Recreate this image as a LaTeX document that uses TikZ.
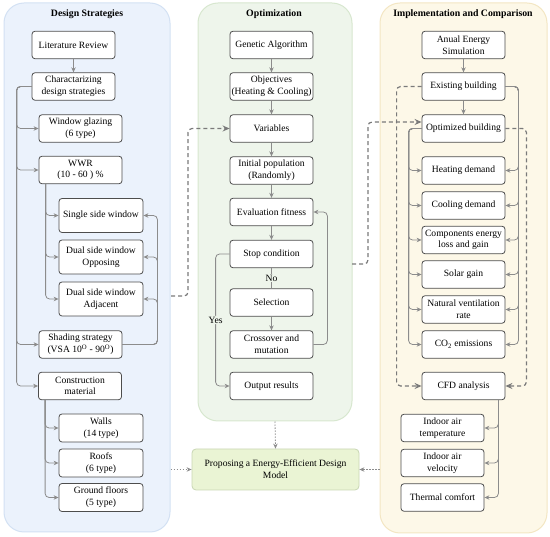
\documentclass[tikz,border=0pt]{standalone}
\usepackage{fontspec}
\setmainfont{Liberation Serif}
\usetikzlibrary{arrows.meta}
\definecolor{bluef}{HTML}{EBF2FC}
\definecolor{blued}{HTML}{D3E1F3}
\definecolor{greenf}{HTML}{EEF5EB}
\definecolor{greend}{HTML}{D7E7CF}
\definecolor{yellf}{HTML}{FDF8E8}
\definecolor{yelld}{HTML}{F3E6C3}
\definecolor{boxc}{HTML}{4D4D4D}
\definecolor{linec}{HTML}{8C8C8C}
\definecolor{dashc}{HTML}{7A7A7A}
\definecolor{propf}{HTML}{EAF4D4}
\definecolor{propd}{HTML}{C8D6B3}
\begin{document}
\begin{tikzpicture}[x=1pt,y=-1pt,
  font=\fontsize{9.6}{11.7}\selectfont,
  box/.style={draw=boxc, fill=white, rounded corners=3pt, line width=0.8pt,
    minimum width=83pt, minimum height=27.5pt, align=center, inner sep=1pt},
  tallbox/.style={box, minimum width=84pt, minimum height=34pt},
  panel/.style={rounded corners=20pt, line width=1pt},
  ttl/.style={font=\fontsize{9.8}{12}\selectfont\bfseries},
  conn/.style={draw=linec, line width=0.8pt, rounded corners=4pt,
    -{Stealth[length=5pt,width=4.5pt]}},
  plainconn/.style={draw=linec, line width=0.8pt},
  dashconn/.style={draw=dashc, line width=1.2pt, dash pattern=on 4pt off 3pt,
    rounded corners=4pt, -{Stealth[length=7pt,width=6pt]}},
  dotconn/.style={draw=linec, line width=0.8pt, dash pattern=on 1.5pt off 1.5pt,
    -{Stealth[length=5pt,width=4.5pt]}}
]
\useasboundingbox (0,0) rectangle (550,537);

% panels
\node[panel, fill=bluef, draw=blued, minimum width=166pt, minimum height=529pt] (P1) at (87,267.5) {};
\node[panel, fill=greenf, draw=greend, minimum width=154pt, minimum height=418pt] (P2) at (275,212) {};
\node[panel, fill=yellf, draw=yelld, minimum width=167pt, minimum height=530pt] (P3) at (463.5,268) {};

\node[ttl] (T1) at (87,14) {Design Strategies};
\node[ttl] (T2) at (274,14) {Optimization};
\node[ttl] (T3) at (463,14) {Implementation and Comparison};

% left column
\node[box] (lit) at (73.5,45) {Literature Review};
\node[box] (char) at (73.5,86.5) {Charactarizing\\design strategies};
\node[box] (glaz) at (80.5,128.5) {Window glazing\\(6 type)};
\node[box] (wwr) at (80.5,170) {WWR\\(10 - 60 ) \%};
\node[tallbox] (single) at (101,215.5) {Single side window};
\node[tallbox] (opp) at (101,257) {Dual side window\\Opposing};
\node[tallbox] (adj) at (101,299) {Dual side window\\Adjacent};
\node[box] (shade) at (80.5,344.5) {Shading strategy\\(VSA 10\textsuperscript{O} - 90\textsuperscript{O})};
\node[box] (constr) at (80,386) {Construction\\material};
\node[tallbox, minimum height=28pt] (walls) at (101,428) {Walls\\(14 type)};
\node[tallbox, minimum height=28pt] (roofs) at (101,463) {Roofs\\(6 type)};
\node[tallbox, minimum height=28pt] (ground) at (101,497.5) {Ground floors\\(5 type)};

\draw[conn] (lit) -- (char);
\foreach \t in {glaz,wwr,shade,constr}
  \draw[conn] (char.west) -- ([xshift=-15pt]char.west) |- (\t.west);
\foreach \t in {single,opp,adj}
  \draw[conn] ([xshift=7pt]wwr.south west) |- (\t.west);
\foreach \t in {single,opp,adj}
  \draw[conn] (shade.east) -- ([xshift=35pt]shade.east) |- (\t.east);
\foreach \t in {walls,roofs,ground}
  \draw[conn] ([xshift=7pt]constr.south west) |- (\t.west);

% middle column
\node[box] (ga) at (271.5,45) {Genetic Algorithm};
\node[box] (obj) at (271.5,86.5) {Objectives\\(Heating \& Cooling)};
\node[box] (var) at (271.5,128.5) {Variables};
\node[box] (init) at (271.5,170.5) {Initial population\\(Randomly)};
\node[box] (eval) at (271.5,212) {Evaluation fitness};
\node[box] (stop) at (271.5,254) {Stop condition};
\node[box] (sel) at (271.5,302.5) {Selection};
\node[box] (cross) at (271.5,344.5) {Crossover and\\mutation};
\node[box] (out) at (271.5,386) {Output results};

\draw[conn] (ga) -- (obj);
\draw[conn] (obj) -- (var);
\draw[conn] (var) -- (init);
\draw[conn] (init) -- (eval);
\draw[conn] (eval) -- (stop);
\draw[plainconn] (stop) -- node[fill=greenf, inner sep=1pt] (no) {No} (sel);
\draw[conn] (sel) -- (cross);
\draw[conn] (stop.west) -- ([xshift=-14pt]stop.west) |- node[pos=0.25, fill=greenf, inner sep=1pt] (yes) {Yes} (out.west);
\draw[conn] (cross.east) -- ([xshift=14pt]cross.east) |- (eval.east);

\node[draw=propd, fill=propf, rounded corners=4pt, line width=0.8pt,
  minimum width=167pt, minimum height=41pt, align=center, inner sep=2pt]
  (prop) at (275.5,469.5) {Proposing a Energy-Efficient Design\\Model};

% right column
\node[box] (anual) at (463.5,45) {Anual Energy\\Simulation};
\node[box] (exist) at (463.5,86.5) {Existing building};
\node[box] (opt) at (463.5,128.5) {Optimized building};
\node[box] (heat) at (463.5,170.5) {Heating demand};
\node[box] (cool) at (463.5,205.5) {Cooling demand};
\node[box] (comp) at (463.5,240) {Components energy\\loss and gain};
\node[box] (solar) at (463.5,274.5) {Solar gain};
\node[box] (nat) at (463.5,309.5) {Natural ventilation\\rate};
\node[box] (co2) at (463.5,344.5) {CO\textsubscript{2} emissions};
\node[box] (cfd) at (463.5,386) {CFD analysis};
\node[box] (itemp) at (442.5,428) {Indoor air\\temperature};
\node[box] (ivel) at (442.5,463) {Indoor air\\velocity};
\node[box] (tc) at (442.5,497.5) {Thermal comfort};

\draw[conn] (anual) -- (exist);
\draw[conn] (exist) -- (opt);
\foreach \t in {heat,cool,comp,solar,nat,co2}
  \draw[conn] (opt.west) -- ([xshift=-13pt]opt.west) |- (\t.west);
\foreach \t in {heat,cool,comp,solar,nat,co2}
  \draw[conn] (exist.east) -- ([xshift=13pt]exist.east) |- (\t.east);
\draw[dashconn] (exist.west) -- ([xshift=-25pt]exist.west) |- (cfd.west);
\draw[dashconn] (opt.east) -- ([xshift=21pt]opt.east) |- (cfd.east);
\foreach \t in {itemp,ivel,tc}
  \draw[conn] ([xshift=-7pt]cfd.south east) |- (\t.east);

% cross-panel dashed connectors
\coordinate (dsA) at (171,296);
\coordinate (dsB) at (352,264);
\draw[dashconn] (dsA) -- (188,296) -- (188,128.5) -- (var.west);
\draw[dashconn] (dsB) -- (368,264) -- (368,122) -- ([yshift=6.5pt]opt.west);

% dotted connectors to proposal
\draw[dotconn] (P2.south) -- (prop.north);
\draw[dotconn] (P1.east |- prop.west) -- (prop.west);
\draw[dotconn] (P3.west |- prop.east) -- (prop.east);
\end{tikzpicture}
\end{document}
